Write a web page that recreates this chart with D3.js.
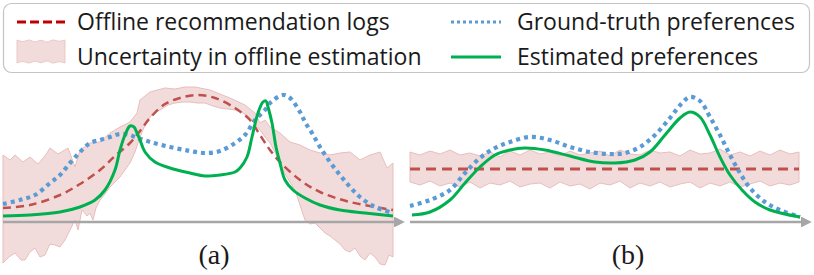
<!DOCTYPE html>
<html>
<head>
<meta charset="utf-8">
<script src="https://cdn.jsdelivr.net/npm/d3@7"></script>
<style>
  body { margin: 0; background: #fff; }
  svg { display: block; }
</style>
</head>
<body>
<div id="chart"></div>
<script>
// Curves are [x, value] pairs; x runs 0..390 along each panel, value is height above the axis
const offlineLogsA = [[0,14],[27,17],[57,27],[77,38],[97,52],[112,66],[127,79],[137,91],[147,104],[162,118],[177,124],[194,127],[212,124],[232,114],[247,102],[257,87],[267,72],[277,60],[297,42],[317,30],[347,20],[390,12]];
const groundTruthA = [[0,18],[17,22],[32,27],[47,39],[57,47],[67,59],[77,70],[87,79],[97,82],[107,85],[117,88],[127,87],[132,85],[147,80],[167,75],[187,71],[202,69],[217,71],[232,79],[242,87],[252,102],[262,112],[267,119],[280,127],[287,124],[297,110],[302,100],[309,89],[317,75],[327,60],[337,47],[347,35],[357,25],[372,15],[390,9]];
const estimatedA = [[0,6],[27,7],[57,10],[77,15],[92,22],[102,32],[112,52],[117,72],[122,87],[127,96],[131,95],[134,89],[137,82],[142,70],[152,60],[167,54],[187,49],[202,46],[217,47],[232,50],[237,54],[244,65],[249,85],[255,109],[260,120],[263,121],[265,115],[269,99],[273,75],[277,59],[282,42],[290,32],[302,24],[317,17],[337,12],[362,9],[390,6]];
const bandUpperA = [[0,67],[7,62],[12,67],[20,60],[27,65],[35,58],[42,66],[47,74],[55,68],[65,74],[72,55],[77,72],[87,79],[97,80],[107,89],[117,95],[127,100],[134,109],[137,122],[147,130],[162,134],[172,133],[182,135],[192,135],[207,132],[217,128],[227,124],[242,117],[252,109],[257,99],[262,102],[267,95],[277,89],[287,80],[297,77],[307,72],[317,69],[327,67],[337,69],[347,70],[357,62],[367,67],[377,70],[384,54],[390,59]];
const bandLowerA = [[0,-41],[6,-35],[12,-31],[18,-38],[22,-38],[27,-30],[32,-26],[37,-35],[42,-33],[47,-22],[52,-23],[57,-25],[62,-18],[67,-8],[72,2],[75,-8],[79,12],[84,6],[87,9],[90,2],[93,14],[97,22],[102,28],[107,35],[112,40],[117,45],[122,52],[127,59],[132,70],[137,85],[142,97],[147,105],[152,110],[157,112],[165,117],[172,119],[180,120],[187,120],[195,119],[202,119],[210,116],[217,114],[225,113],[232,112],[240,109],[247,104],[252,98],[257,92],[262,85],[267,79],[272,70],[277,59],[282,48],[287,40],[292,32],[297,17],[302,2],[307,-2],[312,-1],[317,-6],[322,-11],[327,-14],[332,-18],[337,-22],[342,-28],[347,-30],[352,-26],[357,-34],[362,-38],[367,-31],[372,-35],[377,-42],[382,-43],[386,-33],[390,-35]];

const offlineLogsB = [[0,53],[389,53]];
const groundTruthB = [[0,16],[20,22],[40,32],[55,49],[70,64],[85,74],[100,80],[120,85],[140,82],[160,75],[180,70],[200,68],[215,69],[230,75],[245,87],[260,104],[272,119],[280,125],[290,121],[300,105],[310,87],[320,67],[330,49],[340,34],[355,20],[370,12],[390,5]];
const estimatedB = [[2,7],[20,10],[40,22],[55,39],[70,55],[85,67],[100,72],[115,74],[135,72],[160,66],[185,60],[205,59],[225,62],[240,70],[255,87],[270,104],[280,110],[290,105],[300,87],[310,65],[320,47],[332,32],[345,20],[360,12],[390,5]];
const bandUpperB = [[0,70],[10,67],[20,71],[30,68],[40,72],[50,67],[60,69],[70,66],[80,70],[90,65],[100,71],[110,67],[120,72],[130,68],[140,70],[150,66],[160,71],[170,67],[180,69],[190,71],[200,66],[210,72],[220,68],[230,67],[240,72],[250,69],[260,70],[270,66],[280,72],[290,68],[300,69],[310,73],[320,67],[330,70],[340,66],[350,71],[360,67],[370,72],[380,68],[389,70]];
const bandLowerB = [[0,40],[10,37],[20,41],[30,36],[40,39],[50,35],[60,40],[70,34],[80,39],[90,37],[100,41],[110,35],[120,38],[130,39],[140,34],[150,40],[160,36],[170,38],[180,33],[190,39],[200,37],[210,41],[220,34],[230,39],[240,36],[250,40],[260,35],[270,38],[280,40],[290,34],[300,39],[310,36],[320,40],[330,35],[340,38],[350,41],[360,36],[370,39],[380,37],[389,40]];

const legendLeft = ["Offline recommendation logs", "Uncertainty in offline estimation"];
const legendRight = ["Ground-truth preferences", "Estimated preferences"];
const panelLabels = ["(a)", "(b)"];

const width = 814, height = 275;
const colors = { logs: "#c0504d", logsKey: "#c00000", truth: "#5b9bd5", est: "#00b050", band: "#f2dcdb", bandEdge: "#e8bebd", axis: "#a6a6a6" };

const svg = d3.select("#chart").append("svg")
  .attr("width", width)
  .attr("height", height);

svg.append("defs").append("marker")
  .attr("id", "arrow")
  .attr("viewBox", "0 0 10 10")
  .attr("refX", 1).attr("refY", 5)
  .attr("markerWidth", 4.2).attr("markerHeight", 4.2)
  .attr("markerUnits", "strokeWidth")
  .attr("orient", "auto")
  .append("path")
  .attr("d", "M0,0L10,5L0,10Z")
  .attr("fill", colors.axis);

//Legend box
const legend = svg.append("g").attr("font-family", "'Open Sans', sans-serif").attr("font-size", 23).attr("fill", "#1a1a1a");
legend.append("rect")
  .attr("x", 3.5).attr("y", 3.5).attr("width", 806).attr("height", 69).attr("rx", 8)
  .attr("fill", "#fff").attr("stroke", "#c4c4c4").attr("stroke-width", 1.2);

const rowY = [22, 57];
legend.append("line")
  .attr("x1", 17).attr("x2", 65).attr("y1", rowY[0]).attr("y2", rowY[0])
  .attr("stroke", colors.logsKey).attr("stroke-width", 3).attr("stroke-dasharray", "9 4");
// small wavy swatch for the band
const swatchWave = [0, 1.5, 0, 1.8, 0.3, 2, 0, 1.2, 0];
const sx = d3.scaleLinear().domain([0, swatchWave.length - 1]).range([17, 65]);
const swatchPath = d3.line().curve(d3.curveCatmullRom)(swatchWave.map((d, i) => [sx(i), 40 + d]))
  + "L" + d3.line().curve(d3.curveCatmullRom)(swatchWave.slice().reverse().map((d, i) => [sx(swatchWave.length - 1 - i), 63 - d])).slice(1) + "Z";
legend.append("path").attr("d", swatchPath).attr("fill", colors.band).attr("stroke", colors.bandEdge).attr("stroke-width", 0.8);

legend.append("line")
  .attr("x1", 451).attr("x2", 501).attr("y1", rowY[0]).attr("y2", rowY[0])
  .attr("stroke", colors.truth).attr("stroke-width", 3).attr("stroke-dasharray", "3 3");
legend.append("line")
  .attr("x1", 451).attr("x2", 501).attr("y1", rowY[1]).attr("y2", rowY[1])
  .attr("stroke", colors.est).attr("stroke-width", 3);

legend.selectAll(".lt").data(legendLeft).join("text")
  .attr("x", 77).attr("y", (d, i) => rowY[i]).attr("dy", "0.35em").text(d => d);
legend.selectAll(".rt").data(legendRight).join("text")
  .attr("x", 517).attr("y", (d, i) => rowY[i]).attr("dy", "0.35em").text(d => d);

//Panels
const y = d3.scaleLinear().domain([0, 140]).range([222, 82]);
const panels = [
  { x0: 3, logs: offlineLogsA, truth: groundTruthA, est: estimatedA, up: bandUpperA, low: bandLowerA, dash: "8 5", dashW: 2.5, label: panelLabels[0], labelX: 214 },
  { x0: 410, logs: offlineLogsB, truth: groundTruthB, est: estimatedB, up: bandUpperB, low: bandLowerB, dash: "10 6", dashW: 3, label: panelLabels[1], labelX: 628 }
];

panels.forEach(p => {
  const x = d3.scaleLinear().domain([0, 390]).range([p.x0, p.x0 + 390]);
  const g = svg.append("g");

  //Uncertainty band
  const edgeLine = d3.line().x(d => x(d[0])).y(d => y(d[1]));
  const bandPath = edgeLine(p.up) + "L" + edgeLine(p.low.slice().reverse()).slice(1) + "Z";
  g.append("path").attr("d", bandPath)
    .attr("fill", colors.band).attr("stroke", colors.bandEdge).attr("stroke-width", 1);

  //Axis arrow
  g.append("line")
    .attr("x1", x(0)).attr("x2", x(390) + 2)
    .attr("y1", y(0)).attr("y2", y(0))
    .attr("stroke", colors.axis).attr("stroke-width", 2.6)
    .attr("marker-end", "url(#arrow)");

  const smooth = d3.line().curve(d3.curveCatmullRom.alpha(0.5)).x(d => x(d[0])).y(d => y(d[1]));

  g.append("path").attr("d", smooth(p.logs))
    .attr("fill", "none").attr("stroke", colors.logs).attr("stroke-width", p.dashW).attr("stroke-dasharray", p.dash);
  g.append("path").attr("d", smooth(p.truth))
    .attr("fill", "none").attr("stroke", colors.truth).attr("stroke-width", 4.2).attr("stroke-dasharray", "4 4");
  g.append("path").attr("d", smooth(p.est))
    .attr("fill", "none").attr("stroke", colors.est).attr("stroke-width", 3);

  g.append("text")
    .attr("x", p.labelX).attr("y", 264)
    .attr("text-anchor", "middle")
    .attr("font-family", "'Liberation Serif', serif").attr("font-size", 28)
    .attr("fill", "#1a1a1a")
    .text(p.label);
});
</script>
</body>
</html>
